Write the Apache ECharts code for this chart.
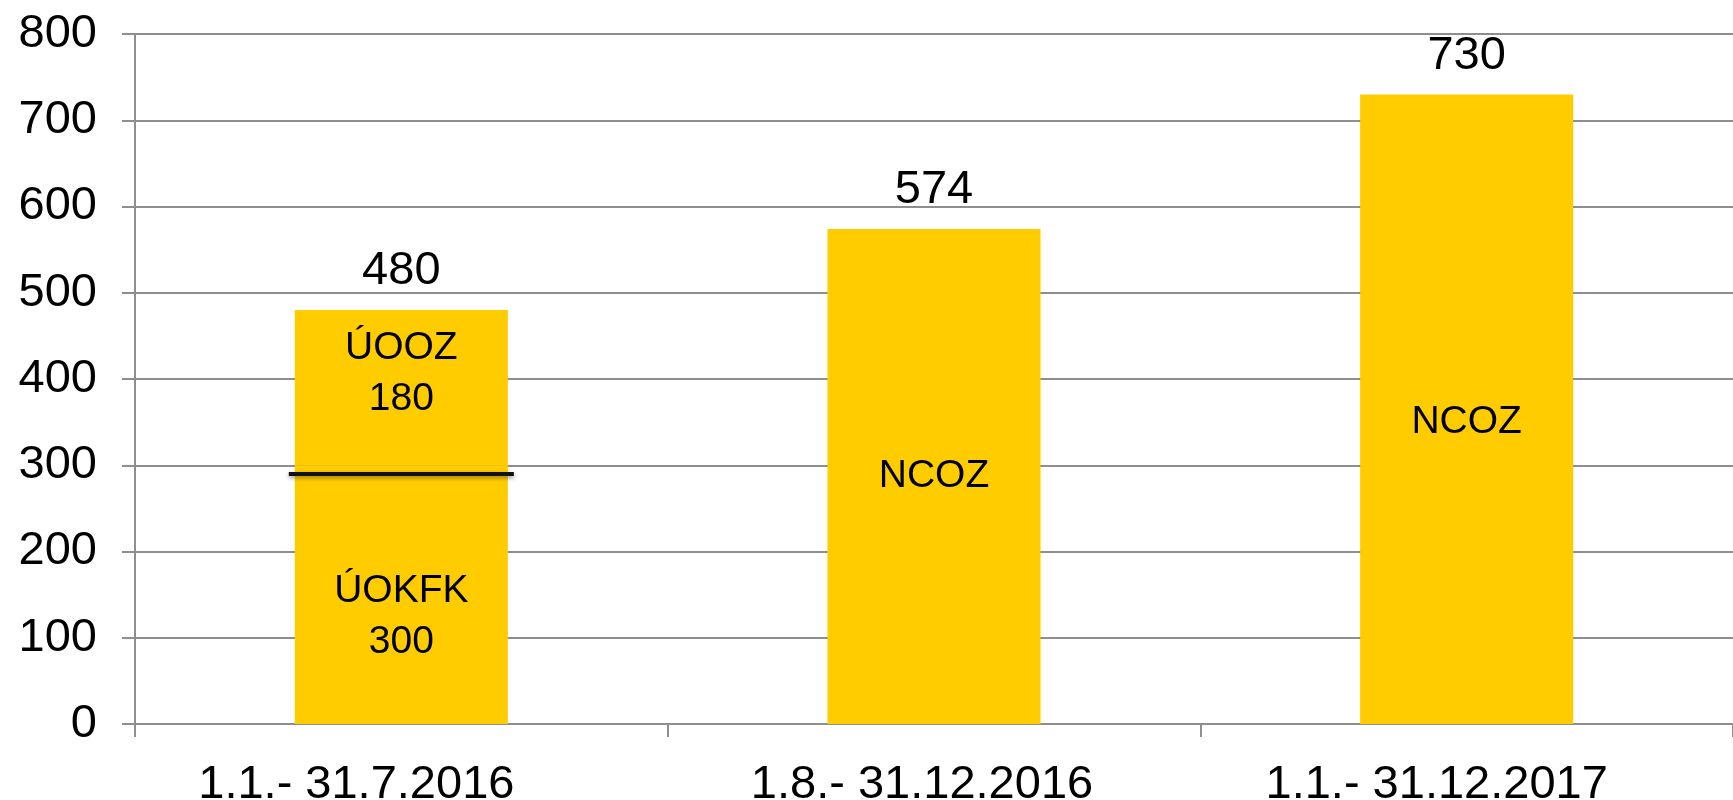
<!DOCTYPE html>
<html>
<head>
<meta charset="utf-8">
<style>
  html, body { margin: 0; padding: 0; background: #fff; }
  #chart { width: 1733px; height: 800px; }
</style>
<script src="https://cdn.jsdelivr.net/npm/echarts@6/dist/echarts.min.js"></script>
</head>
<body>
<div id="chart"></div>
<script>
var categories = ['1.1.- 31.7.2016', '1.8.- 31.12.2016', '1.1.- 31.12.2017'];
var uokfk = [300, null, null];
var uooz = [180, null, null];
var ncoz = [null, 574, 730];
var totals = [480, 574, 730];
var separator = [[0, 290]];
var yTicks = [0, 100, 200, 300, 400, 500, 600, 700, 800];

(function() {
  var yellow = '#FFCC00';
  var grey = '#8e8e8e';
  var font = 'Liberation Sans';

  // last NCOZ label sits a little below the bar middle in the original
  var ncozData = ncoz.map(function(v, i) {
    return i === 2 ? { value: v, label: { offset: [0, 13] } } : v;
  });

  // category labels in the original are nudged left of their band centres
  var xLabel = { color: '#000', fontSize: 47, fontFamily: font };
  var xRich = {
    c0: Object.assign({ padding: [0, 90, 0, 0] }, xLabel),
    c1: Object.assign({ padding: [0, 24, 0, 0] }, xLabel),
    c2: Object.assign({ padding: [0, 60, 0, 0] }, xLabel)
  };

  var chart = echarts.init(document.getElementById('chart'), null, { renderer: 'canvas' });
  chart.setOption({
    animation: false,
    textStyle: { fontFamily: font },
    grid: { left: 135, right: 0, top: 34, bottom: 76, containLabel: false, outerBoundsMode: 'none' },
    xAxis: {
      type: 'category',
      data: categories,
      axisLine: { lineStyle: { color: grey, width: 2 } },
      axisTick: { show: true, interval: 0, length: 13, lineStyle: { color: grey, width: 2 } },
      axisLabel: {
        interval: 0, hideOverlap: false,
        color: '#000', fontSize: 47, margin: 38, fontFamily: font,
        formatter: function(value, index) { return '{c' + index + '|' + value + '}'; },
        rich: xRich
      }
    },
    yAxis: {
      type: 'value',
      min: yTicks[0],
      max: yTicks[yTicks.length - 1],
      interval: 100,
      axisLine: { show: true, lineStyle: { color: grey, width: 2 } },
      axisTick: { show: true, length: 13, lineStyle: { color: grey, width: 2 } },
      splitLine: { lineStyle: { color: grey, width: 2 } },
      axisLabel: { color: '#000', fontSize: 47, margin: 38, fontFamily: font }
    },
    series: [
      {
        name: 'ÚOKFK', type: 'bar', stack: 'a', data: uokfk, barWidth: '40%',
        itemStyle: { color: yellow },
        label: { show: true, position: 'inside', formatter: '{a}\n{c}', color: '#000',
          fontSize: 39, lineHeight: 51, offset: [0, 22] }
      },
      {
        name: 'ÚOOZ', type: 'bar', stack: 'a', data: uooz, barWidth: '40%',
        itemStyle: { color: yellow },
        label: { show: true, position: 'inside', formatter: '{a}\n{c}', color: '#000',
          fontSize: 39, lineHeight: 51, offset: [0, -14] }
      },
      {
        name: 'NCOZ', type: 'bar', stack: 'a', data: ncozData, barWidth: '40%',
        itemStyle: { color: yellow },
        label: { show: true, position: 'inside', formatter: '{a}', color: '#000', fontSize: 39 }
      },
      {
        name: 'total', type: 'scatter', data: totals, symbolSize: 0,
        itemStyle: { opacity: 1 },
        label: { show: true, position: 'top', distance: 15, color: '#000', fontSize: 47 }
      },
      {
        name: 'separator', type: 'custom', data: separator, z: 10,
        renderItem: function(params, api) {
          var p = api.coord([api.value(0), api.value(1)]);
          var half = api.size([1, 0])[0] * 0.2 + 6;
          return {
            type: 'line',
            shape: { x1: p[0] - half, y1: p[1], x2: p[0] + half, y2: p[1] },
            style: { stroke: '#111', lineWidth: 4, shadowBlur: 4, shadowColor: 'rgba(0,0,0,0.4)', shadowOffsetY: 2 }
          };
        }
      }
    ]
  });
  window.addEventListener('resize', function() { chart.resize(); });
})();
</script>
</body>
</html>
